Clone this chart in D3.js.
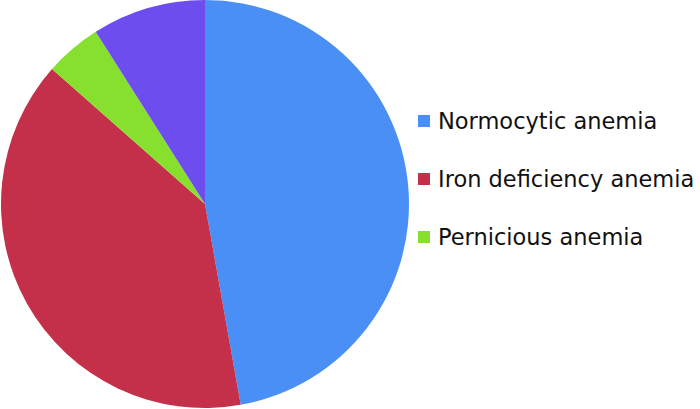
<!DOCTYPE html>
<html>
<head>
<meta charset="utf-8">
<script src="https://cdn.jsdelivr.net/npm/d3@7.9.0/dist/d3.min.js"></script>
<style>
  body { margin: 0; background: #fff; }
  svg { display: block; }
</style>
</head>
<body>
<svg id="chart" width="700" height="409"></svg>
<script>
// Slice data, clockwise from 12 o'clock
const categories = ['Normocytic anemia', 'Iron deficiency anemia', 'Pernicious anemia', 'Other'];
const values = [47.2, 39.3, 4.5, 9.0];
const sliceColors = ['#4a8ff5', '#c4304a', '#88e02e', '#6d4ded'];
// legend shows only the first three
const legendItems = categories.slice(0, 3);

const svg = d3.select('#chart');
const cx = 205, cy = 204, radius = 204;

const pie = d3.pie().sort(null).value(d => d.value);
const arc = d3.arc().innerRadius(0).outerRadius(radius);
const data = categories.map((c, i) => ({ name: c, value: values[i], color: sliceColors[i] }));

svg.append('g')
  .attr('transform', `translate(${cx},${cy})`)
  .selectAll('path')
  .data(pie(data))
  .join('path')
  .attr('d', arc)
  .attr('fill', d => d.data.color);

// Legend
const legendY = d3.scalePoint().domain(legendItems).range([121, 237]);
const legend = svg.append('g')
  .selectAll('g')
  .data(legendItems)
  .join('g')
  .attr('transform', d => `translate(418,${legendY(d)})`);

legend.append('rect')
  .attr('x', 0).attr('y', -6)
  .attr('width', 12).attr('height', 12)
  .attr('fill', (d, i) => sliceColors[i]);

legend.append('text')
  .attr('x', 20).attr('y', 0)
  .attr('dy', '0.36em')
  .attr('font-family', 'DejaVu Sans, sans-serif')
  .attr('font-size', 22.5)
  .attr('fill', '#111')
  .text(d => d);
</script>
</body>
</html>
